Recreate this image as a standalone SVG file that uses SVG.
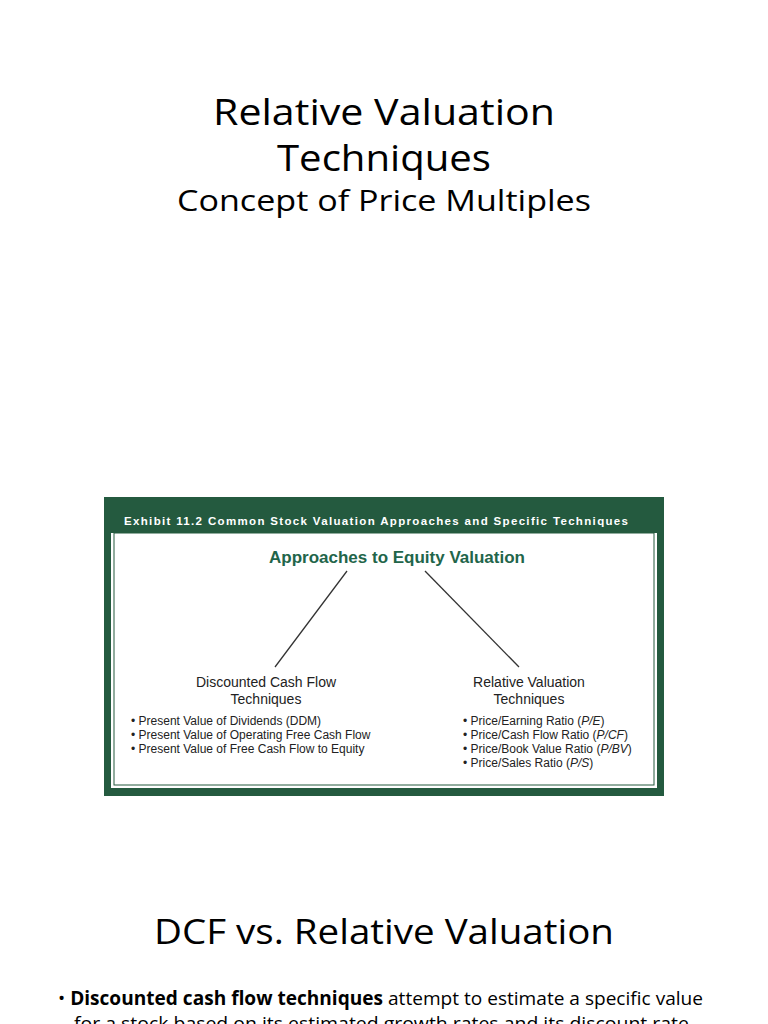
<svg xmlns="http://www.w3.org/2000/svg" width="768" height="1024" viewBox="0 0 768 1024">
<style>
.t{font-family:"Open Sans","Noto Sans",sans-serif;fill:#000;text-anchor:middle}
.h{font-family:"Liberation Sans",Arial,sans-serif;font-weight:bold}
.s{font-family:"Liberation Sans",Arial,sans-serif;font-size:14px;fill:#222;text-anchor:middle}
.b{font-family:"Liberation Sans",Arial,sans-serif;font-size:12px;fill:#222}
.body{font-family:"Open Sans","Noto Sans",sans-serif;font-size:19px;fill:#000}
</style>
<rect width="768" height="1024" fill="#fff"/>
<text class="t" x="384" y="125" font-size="37" textLength="342" lengthAdjust="spacingAndGlyphs">Relative Valuation</text>
<text class="t" x="384" y="171" font-size="37" textLength="214" lengthAdjust="spacingAndGlyphs">Techniques</text>
<text class="t" x="384" y="211" font-size="29" textLength="414" lengthAdjust="spacingAndGlyphs">Concept of Price Multiples</text>
<g id="exhibit">
<rect x="104" y="497" width="560" height="299" fill="#245a3f"/>
<rect x="111" y="506" width="546" height="282" fill="#fff"/>
<rect x="111" y="506" width="546" height="27" fill="#245a3f"/>
<rect x="114" y="533" width="540" height="252" fill="none" stroke="#245a3f" stroke-width="1"/>
<text class="h" x="124" y="525" font-size="11.5" fill="#fff" textLength="504" lengthAdjust="spacing">Exhibit 11.2 Common Stock Valuation Approaches and Specific Techniques</text>
</g>
<g id="root"><text class="h" x="397" y="563" font-size="17" fill="#22654a" text-anchor="middle">Approaches to Equity Valuation</text></g>
<g id="connectors" stroke="#333" stroke-width="1.3">
<line x1="347" y1="571" x2="275" y2="667"/>
<line x1="425" y1="571" x2="519" y2="667"/>
</g>
<g id="dcf">
<text class="s" x="266" y="687">Discounted Cash Flow</text>
<text class="s" x="266" y="704">Techniques</text>
<text class="b" x="131" y="725">• Present Value of Dividends (DDM)</text>
<text class="b" x="131" y="739">• Present Value of Operating Free Cash Flow</text>
<text class="b" x="131" y="753">• Present Value of Free Cash Flow to Equity</text>
</g>
<g id="rel">
<text class="s" x="529" y="687">Relative Valuation</text>
<text class="s" x="529" y="704">Techniques</text>
<text class="b" x="463" y="725">• Price/Earning Ratio (<tspan font-style="italic">P/E</tspan>)</text>
<text class="b" x="463" y="739">• Price/Cash Flow Ratio (<tspan font-style="italic">P/CF</tspan>)</text>
<text class="b" x="463" y="753">• Price/Book Value Ratio (<tspan font-style="italic">P/BV</tspan>)</text>
<text class="b" x="463" y="767">• Price/Sales Ratio (<tspan font-style="italic">P/S</tspan>)</text>
</g>
<text class="t" x="384" y="944" font-size="35" textLength="460" lengthAdjust="spacingAndGlyphs">DCF vs. Relative Valuation</text>
<text class="body" x="58" y="1005" textLength="645" lengthAdjust="spacingAndGlyphs">• <tspan font-weight="bold">Discounted cash flow techniques</tspan> attempt to estimate a specific value</text>
<text class="body" x="74" y="1030" textLength="620" lengthAdjust="spacingAndGlyphs">for a stock based on its estimated growth rates and its discount rate.</text>
</svg>
